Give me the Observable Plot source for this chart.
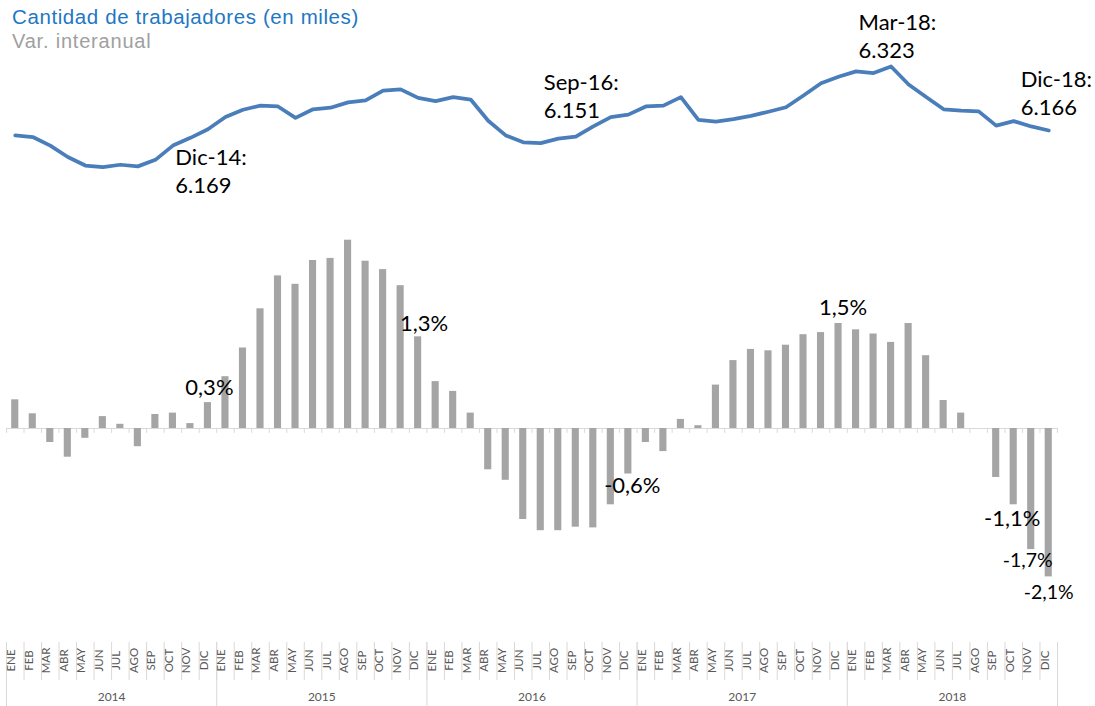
<!DOCTYPE html>
<html>
<head>
<meta charset="utf-8">
<script src="https://cdn.jsdelivr.net/npm/d3@7"></script>
<script src="https://cdn.jsdelivr.net/npm/@observablehq/plot@0.6"></script>
<style>
  body { margin: 0; background: #fff; }
  #wrap { position: relative; width: 1095px; height: 706px; overflow: hidden; font-family: Lato, sans-serif; }
  #wrap svg { position: absolute; left: 0; top: 0; background: transparent; }
  .t1 { position: absolute; left: 12px; top: 5px; font: 20.5px "Liberation Sans", Arial, sans-serif; letter-spacing: 0.6px; color: #2177c4; white-space: nowrap; }
  .t2 { position: absolute; left: 12px; top: 30px; font: 20px "Liberation Sans", Arial, sans-serif; letter-spacing: 0.8px; color: #a0a0a0; white-space: nowrap; }
</style>
</head>
<body>
<div id="wrap">
  <div class="t1">Cantidad de trabajadores (en miles)</div>
  <div class="t2">Var. interanual</div>
</div>
<script>
// ---- Data ----
const years = [2014, 2015, 2016, 2017, 2018];
const monthNames = ["ENE","FEB","MAR","ABR","MAY","JUN","JUL","AGO","SEP","OCT","NOV","DIC"];

// Cantidad de trabajadores (en miles)
const trabajadores = [
  6154, 6150, 6129, 6101, 6080, 6076, 6082, 6078, 6094, 6129, 6148, 6169,
  6199, 6217, 6227, 6225, 6197, 6218, 6222, 6235, 6240, 6264, 6267, 6246,
  6238, 6248, 6242, 6190, 6154, 6137, 6135, 6146, 6151, 6176, 6199, 6205,
  6225, 6227, 6248, 6192, 6188, 6194, 6202, 6212, 6223, 6252, 6282, 6298,
  6311, 6307, 6323, 6279, 6248, 6218, 6215, 6213, 6178, 6189, 6176, 6166
];

// Var. interanual (%)
const varInteranual = [
  0.41, 0.21, -0.20, -0.41, -0.14, 0.17, 0.06, -0.26, 0.20, 0.22, 0.07, 0.37,
  0.74, 1.15, 1.71, 2.18, 2.06, 2.40, 2.43, 2.69, 2.39, 2.27, 2.04, 1.31,
  0.67, 0.53, 0.22, -0.59, -0.74, -1.30, -1.46, -1.46, -1.41, -1.42, -1.09, -0.65,
  -0.20, -0.33, 0.13, 0.04, 0.62, 0.97, 1.13, 1.11, 1.19, 1.34, 1.37, 1.50,
  1.41, 1.35, 1.23, 1.50, 1.04, 0.40, 0.22, 0.00, -0.70, -1.09, -1.73, -2.12
];

// Annotations
const lineLabelMonth = ["2014-DIC", "2016-SEP", "2018-MAR", "2018-DIC"];
const lineLabelText = ["Dic-14:\n6.169", "Sep-16:\n6.151", "Mar-18:\n6.323", "Dic-18:\n6.166"];
const barLabelMonth = ["2014-DIC", "2015-DIC", "2016-DIC", "2017-DIC", "2018-OCT", "2018-NOV", "2018-DIC"];
const barLabelText = ["0,3%", "1,3%", "-0,6%", "1,5%", "-1,1%", "-1,7%", "-2,1%"];

// ---- Build table ----
const keys = [];
const rows = [];
years.forEach((yr) => monthNames.forEach((m) => {
  const i = keys.length;
  const key = `${yr}-${m}`;
  keys.push(key);
  rows.push({key, year: yr, month: m, trab: trabajadores[i], pct: varInteranual[i]});
}));
const byKey = new Map(rows.map(r => [r.key, r]));

// ---- Layout ----
const W = 1095, H = 706, mL = 6, mR = 38;
const step = (W - mL - mR) / keys.length;
const grid = "#d9d9d9";
const axisText = "#595959";

const xScale = {type: "band", domain: keys, padding: 0, axis: null};

const lineLabelStyle = [
  {dx: -32.6, dy: 41},
  {dx: -32, dy: -42},
  {dx: -32.5, dy: -31.5},
  {dx: -28, dy: -38}
];
const barLabelStyle = [
  {dx: 1.5, dy: -15, fontSize: 22},
  {dx: 6, dy: -13, fontSize: 22},
  {dx: 4, dy: 12, fontSize: 22},
  {dx: 4.5, dy: -15.5, fontSize: 22},
  {dx: -1.5, dy: 14, fontSize: 22},
  {dx: -3.6, dy: 11, fontSize: 19.5},
  {dx: 0, dy: 16, fontSize: 19.5}
];

const yearStarts = rows.filter(r => r.month === "ENE");
const yearMid = rows.filter(r => r.month === "JUL");
const lastRow = rows[rows.length - 1];

// Bars plot (with category axis)
const bars = Plot.plot({
  width: W, height: H,
  marginLeft: mL, marginRight: mR, marginTop: 0, marginBottom: 0,
  style: {background: "transparent", overflow: "visible"},
  x: xScale,
  y: {domain: [-3, 3], range: [638, 218], axis: null},
  marks: [
    Plot.ruleY([0], {stroke: grid, strokeWidth: 1}),
    Plot.ruleX(rows, {x: "key", dx: -step / 2, y1: 0, y2: -0.07, stroke: grid}),
    Plot.ruleX([lastRow], {x: "key", dx: step / 2, y1: 0, y2: -0.07, stroke: grid}),
    Plot.barY(rows, {x: "key", y: "pct", fill: "#a5a5a5", insetLeft: 5.2, insetRight: 5.2}),
    Plot.ruleX(rows, {x: "key", dx: -step / 2, insetTop: 642, insetBottom: 26, stroke: grid}),
    Plot.ruleX(yearStarts, {x: "key", dx: -step / 2, insetTop: 642, insetBottom: 0, stroke: grid}),
    Plot.ruleX([lastRow], {x: "key", dx: step / 2, insetTop: 642, insetBottom: 0, stroke: grid}),
    Plot.text(rows, {x: "key", text: "month", frameAnchor: "bottom", rotate: -90, dy: -46,
      fill: axisText, fontSize: 11.5, fontFamily: "Lato"}),
    Plot.text(yearMid, {x: "key", text: d => String(d.year), frameAnchor: "bottom", dx: -step / 2, dy: -6,
      fill: axisText, fontSize: 12, fontFamily: "Lato"}),
    ...barLabelMonth.map((k, i) => Plot.text([byKey.get(k)], {
      x: "key", y: "pct", text: () => barLabelText[i],
      dx: barLabelStyle[i].dx, dy: barLabelStyle[i].dy, fontSize: barLabelStyle[i].fontSize,
      fontFamily: "Lato", fill: "#000"
    }))
  ]
});

// Line plot (overlay)
const line = Plot.plot({
  width: W, height: H,
  marginLeft: mL, marginRight: mR, marginTop: 0, marginBottom: 0,
  style: {background: "transparent", overflow: "visible"},
  x: xScale,
  y: {domain: [6166, 6323], range: [130, 66], axis: null},
  marks: [
    Plot.line(rows, {x: "key", y: "trab", stroke: "#4a7ebb", strokeWidth: 3.75, strokeLinejoin: "round"}),
    ...lineLabelMonth.map((k, i) => Plot.text([byKey.get(k)], {
      x: "key", y: "trab", text: () => lineLabelText[i],
      dx: lineLabelStyle[i].dx, dy: lineLabelStyle[i].dy,
      textAnchor: "start", lineAnchor: "middle", lineHeight: 1.27,
      fontSize: 22, fontFamily: "Lato", fill: "#000"
    }))
  ]
});

const wrap = document.getElementById("wrap");
wrap.appendChild(bars);
wrap.appendChild(line);
</script>
</body>
</html>
